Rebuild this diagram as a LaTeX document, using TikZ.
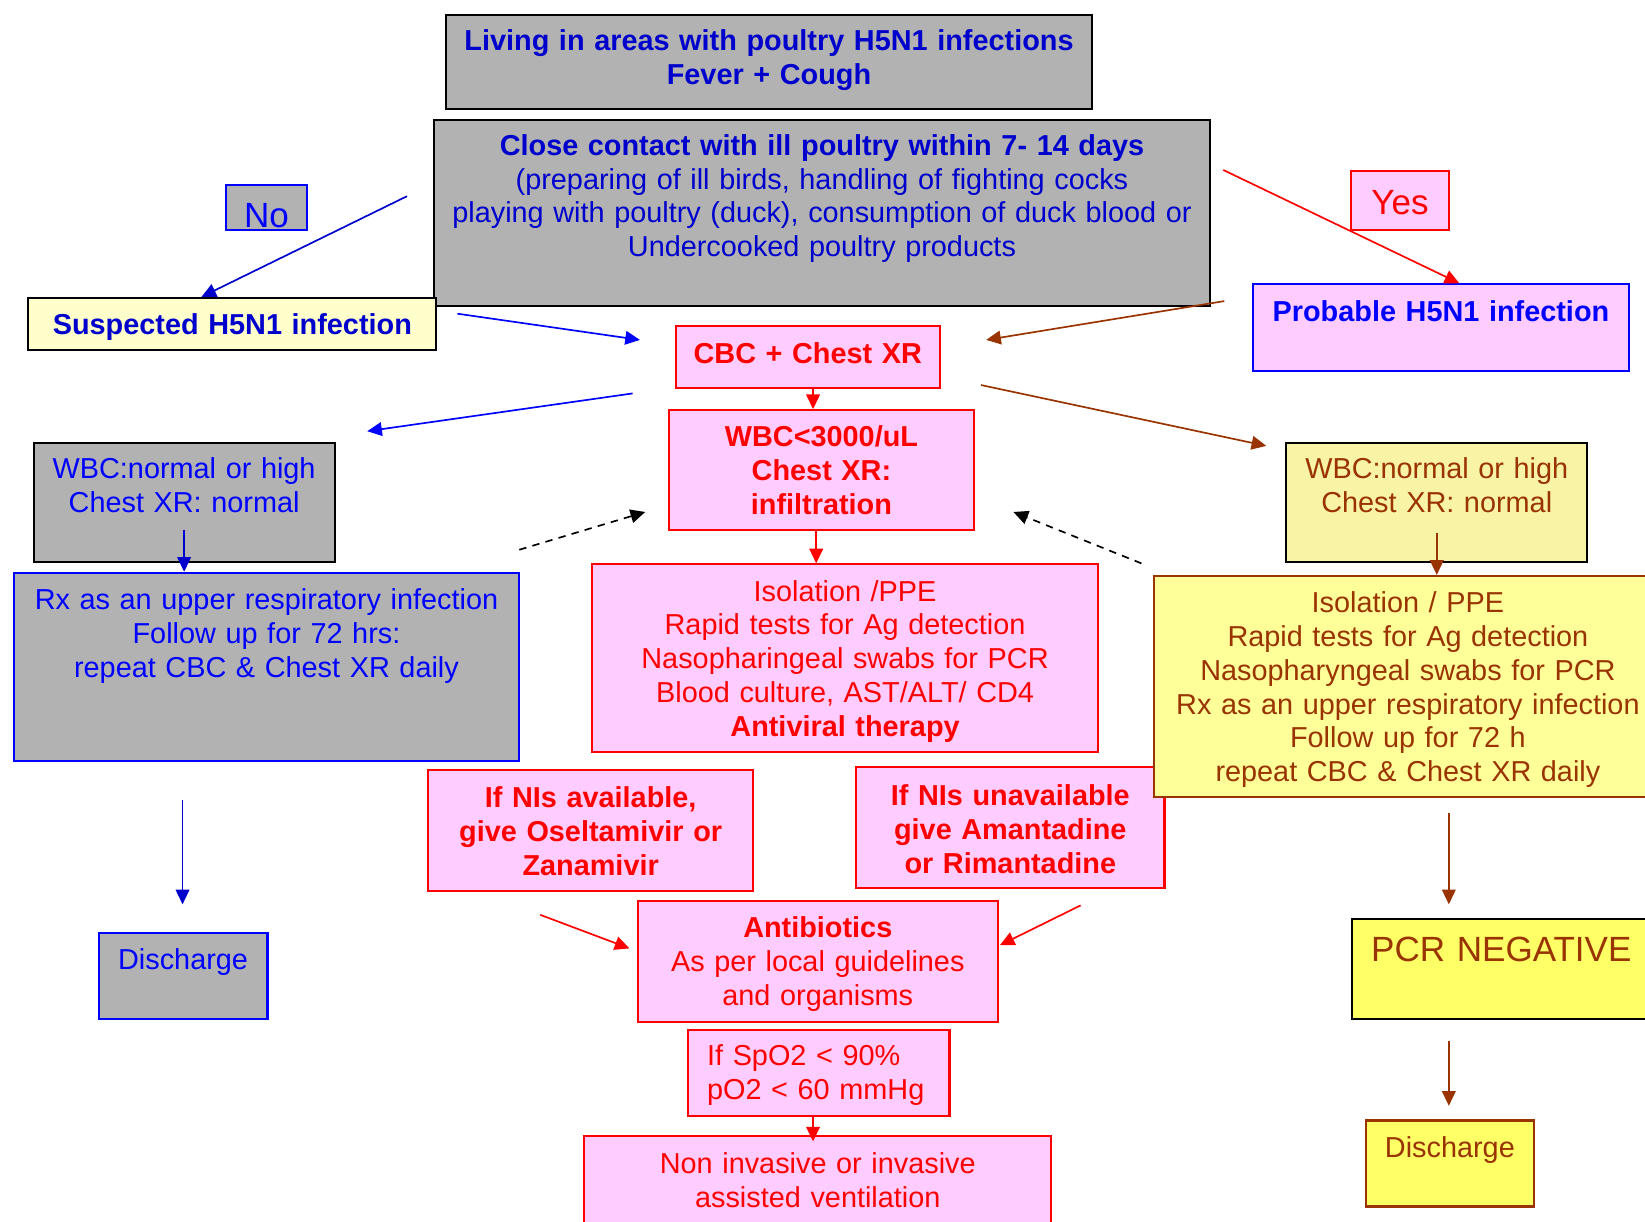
\documentclass[tikz,border=0pt]{standalone}
\usepackage{fontspec}
\setmainfont{Liberation Sans}
\usetikzlibrary{arrows.meta}
\definecolor{grayfill}{RGB}{178,178,178}
\definecolor{navy}{RGB}{0,0,204}
\definecolor{bblue}{RGB}{0,0,255}
\definecolor{rred}{RGB}{255,0,0}
\definecolor{pinkfill}{RGB}{255,204,255}
\definecolor{rust}{RGB}{153,51,0}
\definecolor{paleyellow}{RGB}{255,255,204}
\definecolor{sandfill}{RGB}{249,243,165}
\definecolor{lemonfill}{RGB}{255,255,153}
\definecolor{yellowfill}{RGB}{255,255,102}
\tikzset{
	box/.style={draw, line width=1pt, inner sep=0pt, anchor=north west, align=center, font=\fontsize{13.75}{16.1}\selectfont},
	bold/.style={font=\fontsize{13.75}{16.1}\selectfont\bfseries},
	big/.style={font=\fontsize{16.7}{19}\selectfont},
	dims/.style n args={3}{text width=#1pt, minimum width=#1pt, text height=#2pt, text depth=#3pt},
	graybox/.style={box, fill=grayfill},
	pinkbox/.style={box, fill=pinkfill, draw=rred, text=rred},
	arr/.style={line width=0.8pt, -{Triangle[length=7pt,width=6.5pt]}}
}

\begin{document}
\begin{tikzpicture}[x=1pt, y=-1pt]
	%%%%% START %%%%%
	\useasboundingbox (0,0) rectangle (784,582);
	\clip (0,0) rectangle (784,582);
	
	% question boxes
	\node[graybox, bold, text=navy, dims={308}{17}{28}] (live) at (212,6.5) {Living in areas with poultry H5N1 infections\\Fever + Cough};
	\node[graybox, text=navy, dims={369.5}{17}{72}] (contact) at (206.5,56.5) {{\bfseries Close contact with ill poultry within 7- 14 days}\\(preparing of ill birds, handling of fighting cocks\\playing with poultry (duck), consumption of duck blood or\\Undercooked poultry products};
	\node[graybox, big, draw=bblue, text=bblue, dims={39}{20.5}{1}] (noLbl) at (107,87.5) {No};
	\node[pinkbox, big, dims={46.5}{20.5}{7.5}] (yesLbl) at (643.5,81) {Yes};
	
	\node[box, bold, fill=paleyellow, text=navy, dims={194.5}{17.5}{7.5}] (susp) at (13,141.5) {Suspected H5N1 infection};
	\node[box, bold, fill=pinkfill, draw=bblue, text=bblue, dims={179.5}{17.5}{24}] (prob) at (596.5,135) {Probable H5N1 infection};
	
	% middle column
	\node[pinkbox, bold, dims={126}{17.5}{12}] (cbc) at (321.5,155) {CBC + Chest XR};
	\node[pinkbox, bold, dims={145}{17.5}{39.5}] (wbcLow) at (318.5,195) {WBC<3000/uL\\Chest XR:\\infiltration};
	\node[pinkbox, dims={241.5}{17.5}{72}] (isoC) at (281.5,268.5) {Isolation /PPE\\Rapid tests for Ag detection\\Nasopharingeal swabs for PCR\\Blood culture, AST/ALT/ CD4\\{\bfseries Antiviral therapy}};
	\node[pinkbox, bold, dims={155}{18}{39.5}] (nisA) at (203.5,366.5) {If NIs available,\\give Oseltamivir or\\Zanamivir};
	\node[pinkbox, bold, dims={147}{18.5}{39}] (nisU) at (407.5,365) {If NIs unavailable\\give Amantadine\\or Rimantadine};
	\node[pinkbox, dims={171.5}{17.5}{40}] (abx) at (303.5,429) {{\bfseries Antibiotics}\\As per local guidelines\\and organisms};
	\node[pinkbox, align=left, inner xsep=9pt, dims={106.5}{17}{24}] (spo) at (327.5,490.5) {If SpO2 < 90\%\\pO2 < 60 mmHg};
	\node[pinkbox, dims={222.5}{18}{40}] (vent) at (278,541) {Non invasive or invasive\\assisted ventilation};
	
	% left column
	\node[graybox, text=bblue, dims={143.5}{17}{40}] (wbcL) at (15.5,210.5) {WBC:normal or high\\Chest XR: normal};
	\node[graybox, draw=bblue, text=bblue, dims={241}{17.5}{72}] (rxL) at (6,272.5) {Rx as an upper respiratory infection\\Follow up for 72 hrs:\\repeat CBC \& Chest XR daily};
	\node[graybox, draw=bblue, text=bblue, dims={80.5}{17.5}{23.5}] (disL) at (46.5,444) {Discharge};
	
	% right column
	\node[box, fill=sandfill, text=rust, dims={143.5}{17}{40}] (wbcR) at (612.5,210.5) {WBC:normal or high\\Chest XR: normal};
	\node[box, fill=lemonfill, draw=rust, text=rust, dims={242}{17.5}{88}] (isoR) at (549.5,274) {Isolation / PPE\\Rapid tests for Ag detection\\Nasopharyngeal swabs for PCR\\Rx as an upper respiratory infection\\Follow up for 72 h\\repeat CBC \& Chest XR daily};
	\node[box, big, fill=yellowfill, text=rust, align=left, inner xsep=9pt, dims={138}{20}{27.5}] (pcr) at (644,437.5) {PCR NEGATIVE};
	\node[box, fill=yellowfill, draw=rust, text=rust, dims={80}{17.5}{23.5}] (disR) at (650.5,533.5) {Discharge};
	
	% free arrow ends
	\coordinate (noA) at (194,93.5);
	\coordinate (yesA) at (583,81);
	\coordinate (suspOut) at (218,149.5);
	\coordinate (cbcInL) at (305,162);
	\coordinate (probOut) at (583.5,143.5);
	\coordinate (cbcInR) at (470,162);
	\coordinate (cbcOutL) at (301.5,187.5);
	\coordinate (wbcLIn) at (175,205.5);
	\coordinate (cbcOutR) at (467.5,183.5);
	\coordinate (wbcRIn) at (603.5,212.5);
	\coordinate (dashLA) at (247.5,262);
	\coordinate (dashLB) at (307.5,244);
	\coordinate (dashRA) at (544,268.5);
	\coordinate (dashRB) at (483,244);
	\coordinate (rxOut) at (87,381.5);
	\coordinate (disLIn) at (87,431);
	\coordinate (nisAOut) at (257.5,436);
	\coordinate (abxInL) at (300,452);
	\coordinate (nisUOut) at (515,431.5);
	\coordinate (abxInR) at (476.5,450.5);
	\coordinate (isoROut) at (690.5,387.5);
	\coordinate (pcrIn) at (690.5,431);
	\coordinate (pcrOut) at (690.5,496);
	\coordinate (disRIn) at (690.5,527);
	\coordinate (cbcOut) at ([xshift=2.5pt]cbc.south);
	\coordinate (wbcLowOut) at ([xshift=-2.5pt]wbcLow.south);
	\coordinate (wbcLOut) at ([yshift=16pt]wbcL.south);
	\coordinate (wbcROut) at ([yshift=14.5pt]wbcR.south);
	\coordinate (spoOut) at ([xshift=-2.75pt]spo.south);
	
	% arrows
	\draw[arr, navy] (noA) -- ([xshift=-14.75pt]susp.north);
	\draw[arr, rred] (yesA) -- ([xshift=8.75pt]prob.north);
	\draw[arr, bblue] (suspOut) -- (cbcInL);
	\draw[arr, rust] (probOut) -- (cbcInR);
	\draw[arr, rred] (cbcOut) -- (cbcOut |- wbcLow.north);
	\draw[arr, bblue] (cbcOutL) -- (wbcLIn);
	\draw[arr, rust] (cbcOutR) -- (wbcRIn);
	\draw[arr, navy] (wbcLOut) -- (wbcLOut |- rxL.north);
	\draw[arr, rust] (wbcROut) -- (wbcROut |- isoR.north);
	\draw[arr, rred] (wbcLowOut) -- (wbcLowOut |- isoC.north);
	\draw[arr, dash pattern=on 3.5pt off 3pt] (dashLA) -- (dashLB);
	\draw[arr, dash pattern=on 3.5pt off 3pt] (dashRA) -- (dashRB);
	\draw[arr, navy] (rxOut) -- (disLIn);
	\draw[arr, rred] (nisAOut) -- (abxInL);
	\draw[arr, rred] (nisUOut) -- (abxInR);
	\draw[arr, rred, shorten >=-3pt] (spoOut) -- (spoOut |- vent.north);
	\draw[arr, rust] (isoROut) -- (pcrIn);
	\draw[arr, rust] (pcrOut) -- (disRIn);
	
	%%%%% END %%%%%
\end{tikzpicture}
\end{document}
